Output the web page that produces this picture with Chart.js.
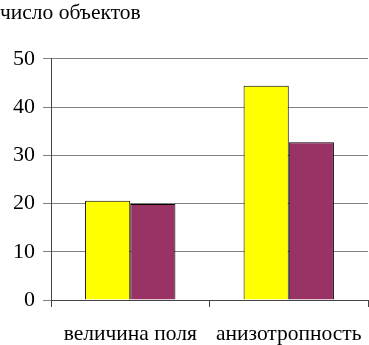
<!DOCTYPE html>
<html>
<head>
<meta charset="utf-8">
<script src="https://cdn.jsdelivr.net/npm/chart.js@4"></script>
<style>
  html, body { margin: 0; padding: 0; background: #fff; }
  #wrap { width: 369px; height: 345px; }
</style>
</head>
<body>
<div id="wrap"><canvas id="chart"></canvas></div>
<script>
const categories = ['величина поля', 'анизотропность'];
const seriesA = [20.6, 44.4];
const seriesB = [19.9, 32.7];
const yTicks = [0, 10, 20, 30, 40, 50];

function initializeChart() {
    const ctx = document.getElementById('chart').getContext('2d');
    new Chart(ctx, {
        type: 'bar',
        data: {
            labels: categories,
            datasets: [{
                data: seriesA,
                backgroundColor: '#ffff00',
                borderColor: '#000000',
                borderWidth: 1
            }, {
                data: seriesB,
                backgroundColor: '#993366',
                borderColor: '#000000',
                borderWidth: 1
            }]
        },
        options: {
            responsive: true,
            maintainAspectRatio: false,
            animation: false,
            layout: { padding: { left: 0, right: 1, top: 0, bottom: 0 } },
            datasets: { bar: { categoryPercentage: 0.57, barPercentage: 1 } },
            plugins: {
                legend: { display: false },
                tooltip: { enabled: false },
                title: {
                    display: true,
                    text: 'число объектов',
                    align: 'start',
                    color: '#000',
                    font: { family: 'Liberation Serif', size: 21.5, weight: 'normal' },
                    padding: { top: 0, bottom: 33 }
                }
            },
            scales: {
                y: {
                    min: 0,
                    max: 50,
                    afterBuildTicks: function(axis) {
                        axis.ticks = yTicks.map(v => ({ value: v }));
                    },
                    afterFit: function(scale) {
                        scale.width = 51;
                    },
                    ticks: {
                        color: '#000',
                        font: { family: 'Liberation Serif', size: 22 },
                        padding: 8
                    },
                    grid: { color: '#808080', tickLength: 8 },
                    border: { color: '#444' }
                },
                x: {
                    afterFit: function(scale) {
                        scale.height = 45;
                        scale.paddingLeft = 0;
                        scale.paddingRight = 0;
                    },
                    ticks: {
                        color: '#000',
                        font: { family: 'Liberation Serif', size: 21.5 },
                        padding: 14,
                        maxRotation: 0,
                        autoSkip: false
                    },
                    grid: { drawOnChartArea: false, color: '#444', tickLength: 7 },
                    border: { color: '#444' }
                }
            }
        }
    });
}

if (document.readyState === 'loading') {
    document.addEventListener('DOMContentLoaded', initializeChart);
} else {
    initializeChart();
}
</script>
</body>
</html>
